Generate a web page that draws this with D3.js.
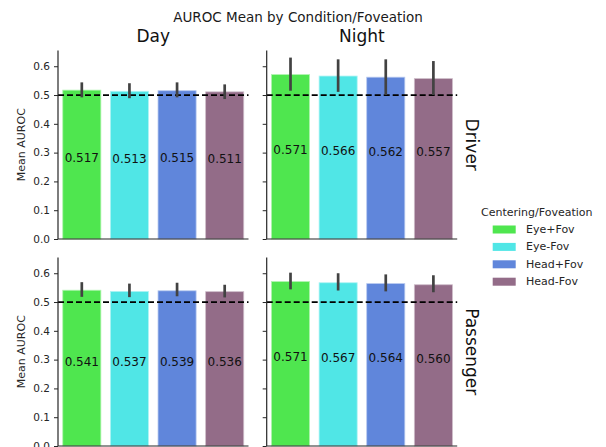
<!DOCTYPE html>
<html>
<head>
<meta charset="utf-8">
<script src="https://cdn.jsdelivr.net/npm/d3@7"></script>
<style>
  body { margin: 0; background: #fff; }
  svg { font-family: 'DejaVu Sans', sans-serif; }
</style>
</head>
<body>
<div id="chart"></div>
<script>
// categories
const methods = ['Eye+Fov', 'Eye-Fov', 'Head+Fov', 'Head-Fov'];
const conditions = ['Day', 'Night'];
const roles = ['Driver', 'Passenger'];
const yTicks = [0.0, 0.1, 0.2, 0.3, 0.4, 0.5, 0.6];
const colors = ['#4fe64f', '#50e6e6', '#6086db', '#936c88'];

// mean AUROC per panel (row = role, col = condition)
const driverDay = [0.517, 0.513, 0.515, 0.511];
const driverNight = [0.571, 0.566, 0.562, 0.557];
const passengerDay = [0.541, 0.537, 0.539, 0.536];
const passengerNight = [0.571, 0.567, 0.564, 0.560];

// confidence intervals (low / high)
const driverDayLo = [0.492, 0.489, 0.492, 0.486];
const driverDayHi = [0.544, 0.541, 0.544, 0.537];
const driverNightLo = [0.515, 0.511, 0.500, 0.500];
const driverNightHi = [0.630, 0.624, 0.624, 0.618];
const passengerDayLo = [0.518, 0.517, 0.520, 0.516];
const passengerDayHi = [0.569, 0.564, 0.567, 0.560];
const passengerNightLo = [0.544, 0.540, 0.537, 0.534];
const passengerNightHi = [0.602, 0.600, 0.596, 0.593];

const chance = 0.5;

const panels = [
  { row: 0, col: 0, mean: driverDay, lo: driverDayLo, hi: driverDayHi },
  { row: 0, col: 1, mean: driverNight, lo: driverNightLo, hi: driverNightHi },
  { row: 1, col: 0, mean: passengerDay, lo: passengerDayLo, hi: passengerDayHi },
  { row: 1, col: 1, mean: passengerNight, lo: passengerNightLo, hi: passengerNightHi }
];

const width = 606, height = 447;
const colX = [58, 266.7];
const panelW = 190.5;
const rowTop = [50.4, 257.4];
const panelH = 188.6;
const spineColor = '#262626';

const svg = d3.select('#chart')
  .append('svg')
  .attr('width', width)
  .attr('height', height);

// super title
svg.append('text')
  .attr('x', 298)
  .attr('y', 22)
  .attr('text-anchor', 'middle')
  .style('font-size', '13.5px')
  .style('fill', '#1a1a1a')
  .text('AUROC Mean by Condition/Foveation');

const x = d3.scaleBand().domain(methods).range([0, panelW]).paddingInner(0.2).paddingOuter(0.1);
const y = d3.scaleLinear().domain([0, 0.655]).range([panelH, 0]);

panels.forEach(p => {
  const g = svg.append('g')
    .attr('transform', `translate(${colX[p.col]}, ${rowTop[p.row]})`);

  // bars
  g.selectAll('.bar')
    .data(p.mean)
    .enter()
    .append('rect')
    .attr('class', 'bar')
    .attr('x', (d, i) => x(methods[i]))
    .attr('y', d => y(d))
    .attr('width', x.bandwidth())
    .attr('height', d => y(0) - y(d))
    .style('fill', (d, i) => colors[i])
    .style('stroke', (d, i) => d3.interpolateRgb(colors[i], '#fff')(0.55))
    .style('stroke-width', 0.8);

  // chance line
  g.append('line')
    .attr('x1', 0)
    .attr('x2', panelW)
    .attr('y1', y(chance))
    .attr('y2', y(chance))
    .style('stroke', '#000')
    .style('stroke-width', 1.8)
    .style('stroke-dasharray', '6,3');

  // error bars
  g.selectAll('.err')
    .data(p.mean)
    .enter()
    .append('line')
    .attr('class', 'err')
    .attr('x1', (d, i) => x(methods[i]) + x.bandwidth() / 2)
    .attr('x2', (d, i) => x(methods[i]) + x.bandwidth() / 2)
    .attr('y1', (d, i) => y(p.lo[i]))
    .attr('y2', (d, i) => y(p.hi[i]))
    .style('stroke', '#424242')
    .style('stroke-width', 2.7);

  // value labels
  g.selectAll('.val')
    .data(p.mean)
    .enter()
    .append('text')
    .attr('class', 'val')
    .attr('x', (d, i) => x(methods[i]) + x.bandwidth() / 2)
    .attr('y', d => y(d / 2) - 6.5)
    .attr('text-anchor', 'middle')
    .attr('dominant-baseline', 'central')
    .style('font-size', '12px')
    .style('fill', '#111')
    .text(d => d3.format('.3f')(d));

  // y axis
  const yAxis = g.append('g')
    .call(d3.axisLeft(y).tickValues(yTicks).tickSize(4).tickPadding(4)
      .tickFormat(p.col === 0 ? d3.format('.1f') : ''));
  yAxis.select('.domain').attr('d', `M0,${panelH}V0`).style('stroke', spineColor).style('stroke-width', 1.2);
  yAxis.selectAll('.tick line').style('stroke', spineColor).style('stroke-width', 1);
  yAxis.selectAll('.tick text').style('font-size', '10.5px').style('fill', '#262626')
    .style('font-family', "'DejaVu Sans', sans-serif");

  // bottom spine
  g.append('line')
    .attr('x1', 0)
    .attr('x2', panelW)
    .attr('y1', panelH)
    .attr('y2', panelH)
    .style('stroke', spineColor)
    .style('stroke-width', 1.2);

  // column titles
  if (p.row === 0) {
    g.append('text')
      .attr('x', panelW / 2)
      .attr('y', -8.5)
      .attr('text-anchor', 'middle')
      .style('font-size', '17px')
      .style('fill', '#111')
      .text(conditions[p.col]);
  }

  // row titles
  if (p.col === 1) {
    g.append('text')
      .attr('transform', `translate(${panelW + 9}, ${panelH / 2}) rotate(90)`)
      .attr('text-anchor', 'middle')
      .style('font-size', '17px')
      .style('fill', '#111')
      .text(roles[p.row]);
  }

  // y label
  if (p.col === 0) {
    g.append('text')
      .attr('transform', `translate(${-33}, ${panelH / 2}) rotate(-90)`)
      .attr('text-anchor', 'middle')
      .style('font-size', '11px')
      .style('fill', '#262626')
      .text('Mean AUROC');
  }
});

// legend
const legend = svg.append('g').attr('transform', 'translate(481, 0)');
legend.append('text')
  .attr('x', 0)
  .attr('y', 215.5)
  .style('font-size', '11px')
  .style('fill', '#262626')
  .text('Centering/Foveation');

const items = legend.selectAll('.item')
  .data(methods)
  .enter()
  .append('g')
  .attr('class', 'item')
  .attr('transform', (d, i) => `translate(0, ${229.5 + i * 17.4})`);
items.append('rect')
  .attr('x', 11.7)
  .attr('y', -4)
  .attr('width', 23)
  .attr('height', 8)
  .style('fill', (d, i) => colors[i]);
items.append('text')
  .attr('x', 45)
  .attr('y', 0)
  .attr('dominant-baseline', 'central')
  .style('font-size', '11px')
  .style('fill', '#262626')
  .text(d => d);
</script>
</body>
</html>
